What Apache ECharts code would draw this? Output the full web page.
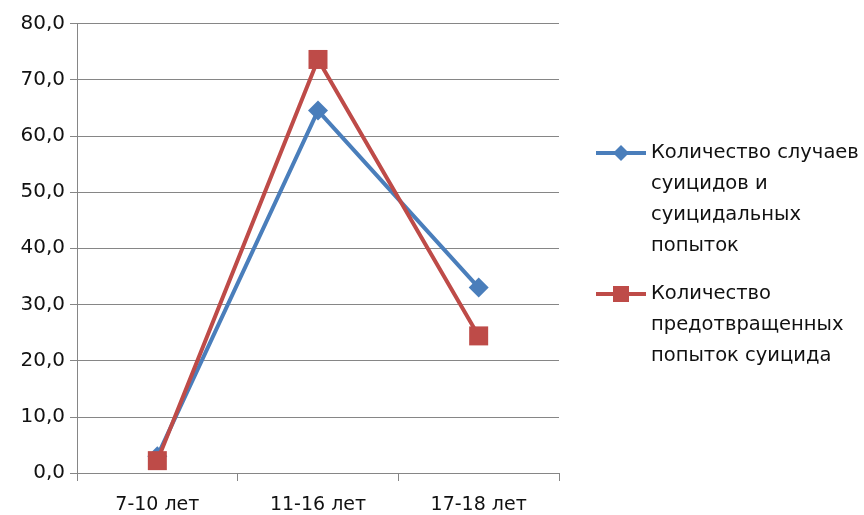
<!DOCTYPE html>
<html>
<head>
<meta charset="utf-8">
<script src="https://cdn.jsdelivr.net/npm/echarts@6/dist/echarts.min.js"></script>
<style>
  html, body { margin: 0; padding: 0; background: #fff; }
  #chart { width: 864px; height: 515px; }
</style>
</head>
<body>
<div id="chart"></div>
<script>
// Age groups along the horizontal axis
const categories = ['7-10 лет', '11-16 лет', '17-18 лет'];

// Series names (legend text, wrapped)
const seriesNames = [
  'Количество случаев\nсуицидов и\nсуицидальных\nпопыток',
  'Количество\nпредотвращенных\nпопыток суицида'
];

// Percent values per age group
const attemptsValues = [3.0, 64.5, 33.0];
const preventedValues = [2.2, 73.6, 24.4];

// Y axis range
const yMin = 0;
const yMax = 80;
const yStep = 10;

const FONT = 'DejaVu Sans';
const LINE_H = 31;
const BLUE = '#4A7EBB';
const RED = '#BE4B48';
const GRID = '#868686';
const TEXT = '#111';

const chart = echarts.init(document.getElementById('chart'), null, { renderer: 'canvas' });

// Legend text is centred on its marker; blank leading lines put the
// marker level with the first real line of the wrapped name.
function legendFor(name, markerY) {
  const lines = name.split('\n').length;
  const total = 2 * lines - 1;
  return {
    show: true,
    orient: 'vertical',
    left: 594,
    top: markerY - (total * LINE_H) / 2,
    padding: 0,
    itemWidth: 50,
    itemHeight: 20,
    itemGap: 0,
    data: [name],
    lineStyle: { width: 4 },
    formatter: n => '\n'.repeat(lines - 1) + n,
    textStyle: {
      fontFamily: FONT,
      fontSize: 19.5,
      color: TEXT,
      lineHeight: LINE_H
    }
  };
}

chart.setOption({
  animation: false,
  backgroundColor: '#fff',
  grid: { left: 77, right: 305, top: 23.5, bottom: 41, containLabel: false },
  legend: [
    legendFor(seriesNames[0], 153),
    legendFor(seriesNames[1], 294)
  ],
  xAxis: {
    type: 'category',
    data: categories,
    boundaryGap: true,
    axisLine: { lineStyle: { color: GRID, width: 1 } },
    axisTick: { show: true, length: 8, alignWithLabel: false, lineStyle: { color: GRID } },
    axisLabel: { fontFamily: FONT, fontSize: 19, color: TEXT, margin: 23 },
    splitLine: { show: false }
  },
  yAxis: {
    type: 'value',
    min: yMin,
    max: yMax,
    interval: yStep,
    axisLine: { show: true, lineStyle: { color: GRID, width: 1 } },
    axisTick: { show: true, length: 7, lineStyle: { color: GRID } },
    axisLabel: {
      fontFamily: FONT,
      fontSize: 20,
      color: TEXT,
      margin: 12,
      formatter: v => v.toFixed(1).replace('.', ',')
    },
    splitLine: { show: true, lineStyle: { color: GRID, width: 1 } }
  },
  series: [
    {
      name: seriesNames[0],
      type: 'line',
      data: attemptsValues,
      color: BLUE,
      symbol: 'diamond',
      symbolSize: 20,
      lineStyle: { width: 4, color: BLUE },
      itemStyle: { color: BLUE },
      z: 2
    },
    {
      name: seriesNames[1],
      type: 'line',
      data: preventedValues,
      color: RED,
      symbol: 'rect',
      symbolSize: 19,
      lineStyle: { width: 4, color: RED },
      itemStyle: { color: RED },
      z: 3
    }
  ]
});
</script>
</body>
</html>
